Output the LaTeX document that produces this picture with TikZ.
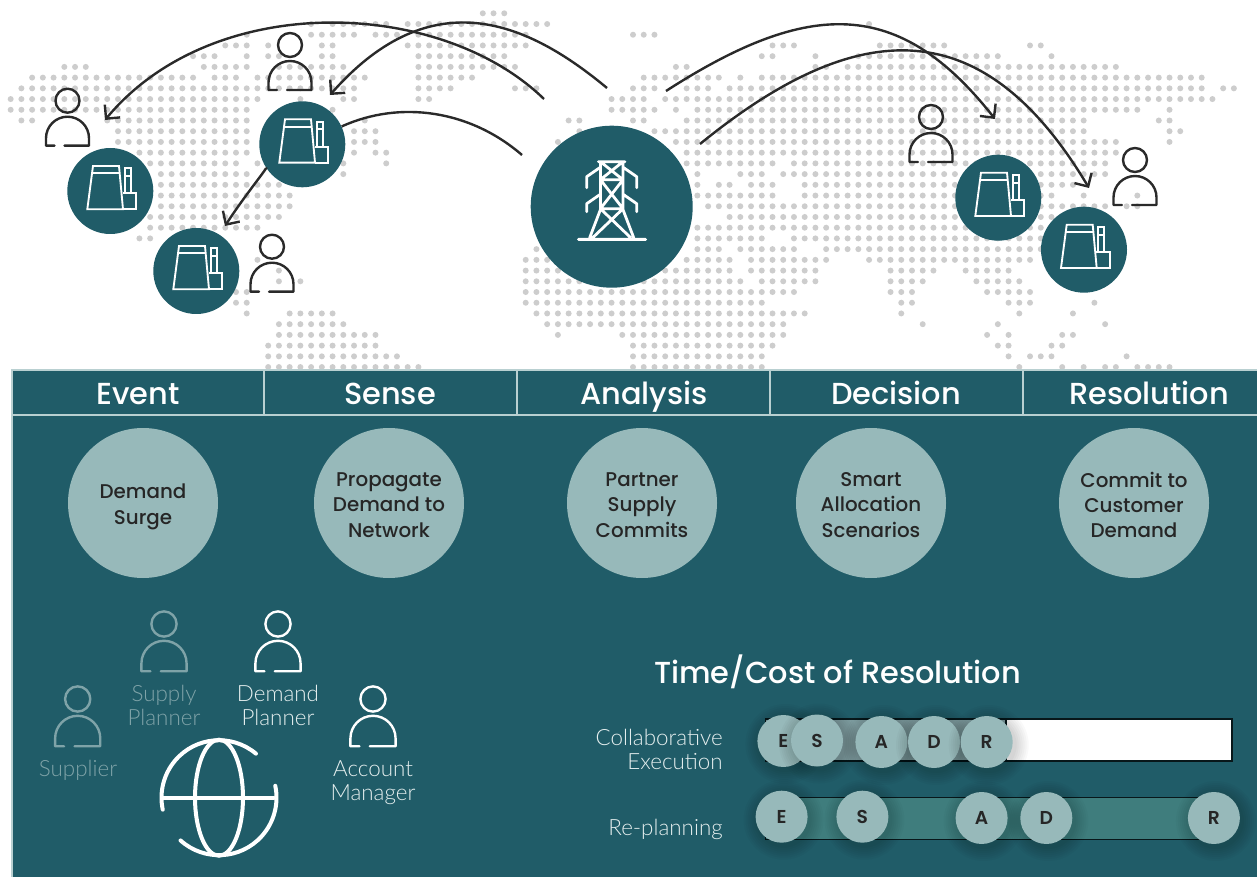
\documentclass[tikz,border=0pt]{standalone}
\usepackage{fontspec}
\usetikzlibrary{arrows.meta}
\setmainfont{Lato Light}
\newfontfamily\popm{Poppins Medium}
\newfontfamily\pops{Poppins SemiBold}
\definecolor{band}{HTML}{205C68}
\definecolor{lightc}{HTML}{97B9BA}
\definecolor{dotc}{HTML}{CDCDCD}
\definecolor{inkc}{HTML}{2A2A2A}
\definecolor{dimc}{HTML}{7FA3A8}
\definecolor{labelc}{HTML}{E4EEEE}
\definecolor{barfull}{HTML}{3F7D7D}
\definecolor{barpart}{HTML}{7F9FA2}
\definecolor{rulec}{HTML}{B9D0D1}
\newcommand\dotrow[2]{\foreach \a/\b in {#2}{\foreach \c in {\a,...,\b}{\fill[dotc] (10.67+10.73*\c,13.3+10.72*#1) circle[radius=3];}}}
\tikzset{
  person/.pic={
    \draw[pic actions,line width=1.8pt,line cap=round,line join=round] (0,0) circle[radius=12];
    \draw[pic actions,line width=1.8pt,line cap=round,line join=round] (-13,45) -- (-21.5,45) -- (-21.5,37.5) arc[start angle=180,end angle=360,radius=21.5] -- (21.5,45) -- (-3,45);
  },
  factoryicon/.pic={
    \draw[white,line width=1.4pt,line join=miter] (-23,18.3) -- (12.7,18.3) -- (8.7,-25) -- (-17.3,-25) -- cycle;
    \draw[white,line width=1.4pt] (-18,-17.7) -- (9.3,-17.7);
    \draw[white,line width=1.4pt] (14.3,2.3) -- (14.3,-22.7) -- (20.3,-22.7) -- (20.3,2.3);
    \draw[white,line width=1.4pt] (14.3,-15) -- (20.3,-15);
    \draw[white,line width=1.4pt] (12.4,2.3) -- (26,2.3) -- (26,18.3) -- (12.7,18.3);
  },
  towericon/.pic={
    \draw[white,line width=2.1pt,line cap=round,line join=round]
      (-33.3,32.7) -- (34,32.7)
      (-13.3,-45) -- (13.3,-45)
      (-11.3,-45) -- (-11.3,3) -- (-22,31)
      (11.3,-45) -- (11.3,3) -- (22,31)
      (-11.3,-27) -- (11.3,-27)
      (-11.3,2) -- (11.3,2)
      (-11.3,-45) -- (11.3,-27) (11.3,-45) -- (-11.3,-27)
      (-11.3,-27) -- (11.3,2) (11.3,-27) -- (-11.3,2)
      (-11.3,2) -- (19,31) (11.3,2) -- (-19,31)
      (-12,-39) -- (-25,-30) -- (-25,-19)
      (12,-39) -- (25,-30) -- (25,-19)
      (-12,-12) -- (-25,-3) -- (-25,5)
      (12,-12) -- (25,-3) -- (25,5);
  },
  factory/.style={circle,fill=band,minimum size=64.5pt,inner sep=0pt},
  hub/.style={circle,fill=band,minimum size=121.5pt,inner sep=0pt},
  stage/.style={circle,fill=lightc,minimum size=112.5pt,inner sep=0pt},
  stagetext/.style={align=center,text=black!85,font=\popm\fontsize{14.9}{19}\selectfont,inner sep=0pt},
  chip/.style={circle,fill=lightc,minimum size=39pt,inner sep=0pt,text=black!85,font=\pops\fontsize{14}{14}\selectfont},
  headtext/.style={text=white,font=\popm\fontsize{22.8}{24}\selectfont,anchor=base},
  rolelabel/.style={align=center,font=\fontsize{16.8}{18}\selectfont,inner sep=0pt},
  timelabel/.style={align=right,anchor=east,text=labelc,font=\fontsize{16.8}{18}\selectfont,inner sep=0pt},
  flow/.style={inkc,line width=1.8pt,-{Straight Barb[length=7.5pt,width=15pt,line width=1.8pt]}},
  flowplain/.style={inkc,line width=1.8pt},
  rule/.style={rulec,line width=0.8pt},
  globeline/.style={white,line width=3pt,line cap=round},
}
\newcommand\softshadow[2]{\foreach \rr in {40,38,...,27}{\fill[black,opacity=.025] (#1+2,#2+3) circle[radius=\rr];}}
\begin{document}
\begin{tikzpicture}[x=0.75pt,y=-0.75pt]
\useasboundingbox (0,0) rectangle (1257,877);
% dotted world map
\dotrow{0}{44/46}
\dotrow{1}{28/28,30/35,37/50,80/80}
\dotrow{2}{22/22,28/32,34/36,38/48,58/60}
\dotrow{3}{20/22,24/24,29/30,37/48,71/73,81/87,95/96}
\dotrow{4}{17/19,22/22,24/25,29/30,38/46,70/71,75/75,79/92,97/97}
\dotrow{5}{5/7,18/22,25/31,38/47,62/63,75/76,78/103}
\dotrow{6}{2/17,19/21,23/33,38/43,59/66,68/68,70/111}
\dotrow{7}{1/22,23/32,38/41,47/49,58/60,63/65,67/111,113/114}
\dotrow{8}{0/23,27/27,31/32,38/39,56/59,61/112}
\dotrow{9}{0/22,30/30,56/60,62/62,64/105,108/108}
\dotrow{10}{1/2,9/22,33/33,52/53,58/59,63/100,107/108}
\dotrow{11}{10/22,32/34,53/53,60/100,108/109}
\dotrow{12}{10/22,32/34,51/51,62/103,108/108}
\dotrow{13}{12/22,32/32,34/35,63/103}
\dotrow{14}{13/21,23/23,31/31,35/35,63/71,73/102}
\dotrow{15}{14/22,31/31,64/64,68/70,72/102}
\dotrow{16}{14/25,64/64,66/67,69/71,74/99}
\dotrow{17}{13/26,64/71,74/97,100/100,105/105}
\dotrow{18}{14/26,65/102,104/105}
\dotrow{19}{13/25,67/100}
\dotrow{20}{13/23,64/98}
\dotrow{21}{12/13,64/70,73/96}
\dotrow{22}{49/49,64/66,68/73,76/96}
\dotrow{23}{23/23,48/50,63/67,69/76,80/95}
\dotrow{24}{25/25,48/51,61/67,69/75,82/86,89/93}
\dotrow{25}{25/25,27/27,48/53,58/68,70/75,82/85,90/94}
\dotrow{26}{21/22,48/73,82/84,91/95}
\dotrow{27}{21/22,48/70,83/84,93/95,101/101}
\dotrow{28}{22/22,26/30,49/74,83/83,94/94,99/99}
\dotrow{29}{25/31,50/72,85/85,92/92,102/102}
\dotrow{30}{25/34,51/51,57/72,91/91,93/93,98/99}
\dotrow{31}{24/34,58/71,92/93,97/98}
\dotrow{32}{24/36,58/70,93/93,95/97,104/104}
\dotrow{33}{24/38,58/70,94/94,98/98,100/100,102/103,105/108}
% top nodes
\node[factory] (f1) at (110.3,191) {};
\node[factory] (f2) at (302.3,144.3) {};
\node[factory] (f3) at (196.3,271) {};
\node[factory] (f4) at (998.3,197.7) {};
\node[factory] (f5) at (1084,249.7) {};
\node[hub] (hub) at (611.7,206.7) {};
\foreach \n in {f1,f2,f3,f4,f5}{\pic at (\n) {factoryicon};}
\pic at (hub) {towericon};
\pic[draw=inkc] at (67.5,100.7) {person};
\pic[draw=inkc] at (290,45) {person};
\pic[draw=inkc] at (272,246.7) {person};
\pic[draw=inkc] at (931,117) {person};
\pic[draw=inkc] at (1135,160) {person};
% connectors
\coordinate (a1s) at (544,99);  \coordinate (a1e) at (105,120);
\coordinate (a2s) at (607,88);  \coordinate (a2e) at (330,95);
\coordinate (a3s) at (522,155); \coordinate (a3e) at (225,226);
\coordinate (a4s) at (666,91);  \coordinate (a4e) at (995,119);
\coordinate (a5s) at (700,144); \coordinate (a5e) at (1089,188);
\draw[flow] (a1s) .. controls (440,-2) and (213,-10) .. (a1e);
\draw[flow] (a2s) .. controls (530,24) and (433,-22) .. (a2e);
\draw[flowplain] (a3s) .. controls (470,110) and (400,100) .. (f2);
\draw[flow] (f2) .. controls (270,165) and (245,195) .. (a3e);
\draw[flow] (a4s) .. controls (809,-1) and (899,-3) .. (a4e);
\draw[flow] (a5s) .. controls (862,12) and (985,14) .. (a5e);
% band
\fill[band] (12,370) rectangle (1257,877);
\draw[rule] (1257,370) -- (12,370) -- (12,877);
\draw[rule] (12,415) -- (1257,415);
\foreach \xx in {264,517,770,1023}{\draw[rule] (\xx,370) -- (\xx,415);}
\node[headtext] (h1) at (138,404) {Event};
\node[headtext] (h2) at (390,404) {Sense};
\node[headtext] (h3) at (644,404) {Analysis};
\node[headtext] (h4) at (896,404) {Decision};
\node[headtext] (h5) at (1149,404) {Resolution};
\node[stage] (s1) at (143,503) {};
\node[stage] (s2) at (389,503) {};
\node[stage] (s3) at (642,503) {};
\node[stage] (s4) at (871,503) {};
\node[stage] (s5) at (1134,503) {};
\node[stagetext] (t1) at (143,507) {Demand\\Surge};
\node[stagetext] (t2) at (389,505) {Propagate\\Demand to\\Network};
\node[stagetext] (t3) at (642,505) {Partner\\Supply\\Commits};
\node[stagetext] (t4) at (871,505) {Smart\\Allocation\\Scenarios};
\node[stagetext] (t5) at (1134,505) {Commit to\\Customer\\Demand};
% roles
\pic[draw=dimc,scale=1.05] at (164,624) {person};
\pic[draw=dimc,scale=1.05] at (77.7,699) {person};
\pic[draw=white,scale=1.05] at (278,624) {person};
\pic[draw=white,scale=1.05] at (373,699) {person};
\node[rolelabel,text=dimc] (r1) at (164,705) {Supply\\Planner};
\node[rolelabel,text=dimc] (r2) at (78,770) {Supplier};
\node[rolelabel,text=labelc] (r3) at (278,705) {Demand\\Planner};
\node[rolelabel,text=labelc] (r4) at (373,783) {Account\\Manager};
% globe
\coordinate (g) at (219,797.7);
\draw[globeline] (g) ++(-50:57.5) arc[start angle=-50,end angle=-192,radius=57.5];
\draw[globeline] (g) ++(-228:57.5) arc[start angle=-228,end angle=-372,radius=57.5];
\draw[globeline] (g) ellipse[x radius=24,y radius=58];
\draw[globeline] (163,797.7) -- (274,797.7);
% time / cost
\node[text=white,font=\popm\fontsize{22.8}{24}\selectfont] (tc) at (837.5,672) {Time/Cost of Resolution};
\node[timelabel] (l1) at (723,749) {Collaborative\\Execution};
\node[timelabel] (l2) at (723,829) {Re-planning};
\draw[fill=white,draw=black!75!band,line width=.8pt] (765.5,719) rectangle (1232,761);
\fill[barpart] (765.5,719) rectangle (1006,761);
\draw[draw=black!75!band,line width=.8pt] (765.5,719) rectangle (1006,761);
\draw[fill=barfull,draw=black!75!band,line width=.8pt] (765.5,797.5) rectangle (1219,839.5);
\foreach \xx/\yy/\t/\nm in {783.4/741/E/ce,817/740.5/S/cs,881.4/742/A/ca,934/742/D/cd,986.7/742/R/cr,781.6/816.7/E/re,862.4/816.7/S/rs,981.6/818/A/ra,1046.3/818/D/rd,1213.9/818/R/rr}{
  \softshadow{\xx}{\yy}
  \node[chip] (\nm) at (\xx,\yy) {\t};
}
\end{tikzpicture}
\end{document}
